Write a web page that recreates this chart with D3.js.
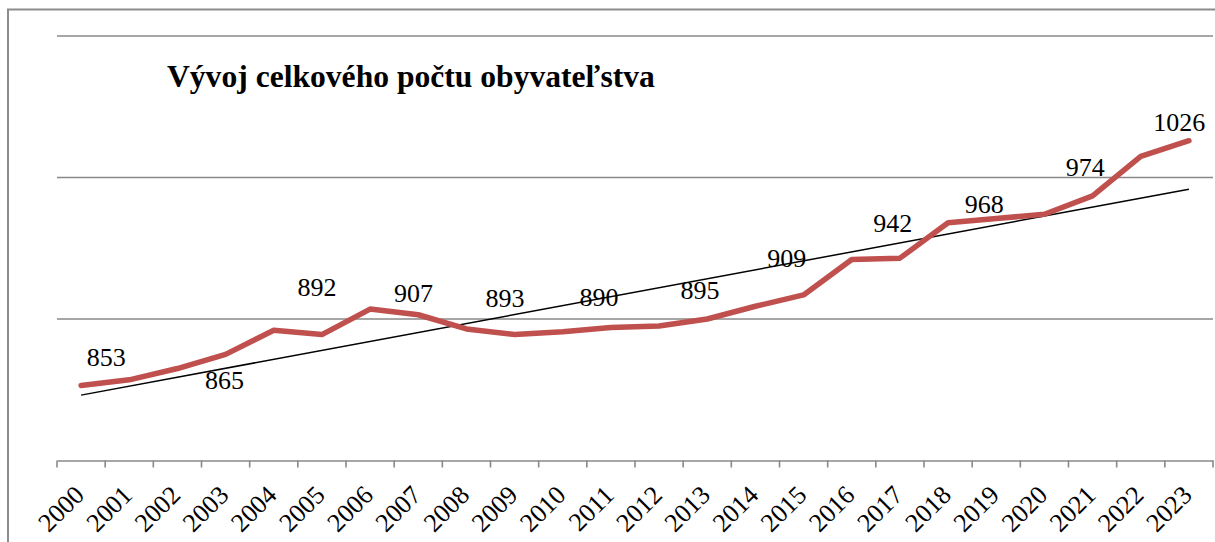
<!DOCTYPE html>
<html><head><meta charset="utf-8">
<script src="https://cdn.jsdelivr.net/npm/d3@7"></script>
<style>html,body{margin:0;padding:0;background:#fff;overflow:hidden}
svg text{font-family:"Liberation Serif","Times New Roman","DejaVu Serif",serif}</style>
</head><body>
<svg id="c" width="1215" height="542"></svg>
<script>
const years = ["2000","2001","2002","2003","2004","2005","2006","2007","2008","2009","2010","2011","2012","2013","2014","2015","2016","2017","2018","2019","2020","2021","2022","2023"];
const population = [853,857,865,875,892,889,907,903,893,889,891,894,895,900,909,917,942,943,968,971,974,987,1015,1026];
const labelTexts = ["853","865","892","907","893","890","895","909","942","968","974","1026"];
const labelIndex = [0.52,2.98,4.9,6.9,8.8,10.75,12.85,14.65,16.85,18.75,20.85,22.8];
const labelLevel = [866.8,850.5,916.3,912,908.5,909.2,914.1,936.7,961.5,974.9,1001,1032.9];
const gridValues = [800,900,1000,1100];
const title = "Vývoj celkového počtu obyvateľstva";

const svg = d3.select("#c");
const L = 57, R = 1213, T = 36, B = 460.5;

const x = d3.scaleBand().domain(years).range([L, R]);
const xi = d3.scaleLinear().domain([0, years.length - 1]).range([L + x.bandwidth()/2, R - x.bandwidth()/2]);
const y = d3.scaleLinear().domain([800, 1100]).range([B, T]);

// frame
svg.append("rect").attr("x", 8).attr("y", 9.5).attr("width", 1300).attr("height", 700)
  .attr("fill", "none").attr("stroke", "#8c8c8c").attr("stroke-width", 2);

// gridlines
svg.append("g").selectAll("line").data(gridValues.slice(1)).join("line")
  .attr("x1", L).attr("x2", R).attr("y1", d => y(d)).attr("y2", d => y(d))
  .attr("stroke", "#898989").attr("stroke-width", 1.6);

// x axis
const ax = svg.append("g").attr("transform", `translate(0,${B})`)
  .call(d3.axisBottom(x).tickSize(0).tickFormat(""));
ax.select(".domain").attr("stroke", "#898989").attr("stroke-width", 1.6);
const tickPos = years.map(d => x(d)).concat([R]);
svg.append("g").selectAll("line").data(tickPos).join("line")
  .attr("x1", d => d).attr("x2", d => d).attr("y1", B).attr("y2", B + 7)
  .attr("stroke", "#898989").attr("stroke-width", 1.6);
svg.append("g").selectAll("text").data(years).join("text")
  .attr("transform", d => `translate(${x(d) + x.bandwidth()/2 + 4.5},${B + 36}) rotate(-45)`)
  .attr("text-anchor", "end")
  .attr("font-size", 26).attr("fill", "#000")
  .text(d => d);

// trend line (least squares)
const n = population.length;
const mx = d3.mean(d3.range(n)), my = d3.mean(population);
const slope = d3.sum(d3.range(n), i => (i - mx) * (population[i] - my)) / d3.sum(d3.range(n), i => (i - mx) ** 2);
const icpt = my - slope * mx;
svg.append("line")
  .attr("x1", xi(0)).attr("y1", y(icpt))
  .attr("x2", xi(n - 1)).attr("y2", y(icpt + slope * (n - 1)))
  .attr("stroke", "#000").attr("stroke-width", 1.5);

// data line
svg.append("path").datum(population)
  .attr("d", d3.line().x((d, i) => x(years[i]) + x.bandwidth()/2).y(d => y(d)))
  .attr("fill", "none").attr("stroke", "#C0504D").attr("stroke-width", 5.5)
  .attr("stroke-linejoin", "round").attr("stroke-linecap", "round");

// labels
svg.append("g").selectAll("text").data(labelTexts).join("text")
  .attr("x", (d, i) => xi(labelIndex[i])).attr("y", (d, i) => y(labelLevel[i]))
  .attr("text-anchor", "middle").attr("font-size", 26).attr("fill", "#000")
  .text(d => d);

// title
svg.append("text").attr("x", 167).attr("y", 87)
  .attr("font-size", 31.6).attr("font-weight", "bold").attr("fill", "#000")
  .text(title);
</script>
</body></html>
